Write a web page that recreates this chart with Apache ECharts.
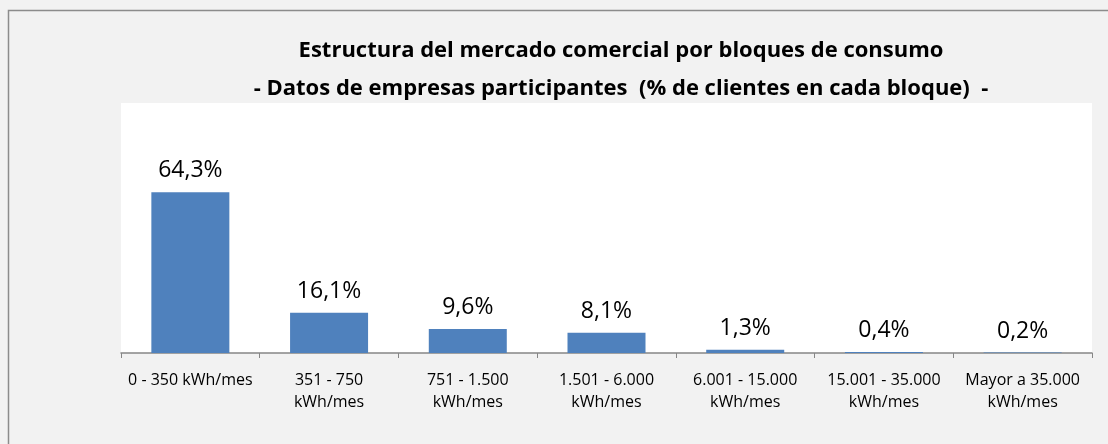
<!DOCTYPE html>
<html>
<head>
<meta charset="utf-8">
<script src="https://cdn.jsdelivr.net/npm/echarts@6/dist/echarts.min.js"></script>
<style>
  html, body { margin: 0; padding: 0; background: #f2f2f2; }
  #chart { width: 1108px; height: 444px; }
</style>
</head>
<body>
<div id="chart"></div>
<script>
// datos del gráfico
const bloques = [
  '0 - 350 kWh/mes',
  '351 - 750\nkWh/mes',
  '751 - 1.500\nkWh/mes',
  '1.501 - 6.000\nkWh/mes',
  '6.001 - 15.000\nkWh/mes',
  '15.001 - 35.000\nkWh/mes',
  'Mayor a 35.000\nkWh/mes'
];
const clientes = [64.3, 16.1, 9.6, 8.1, 1.3, 0.4, 0.2];
const titulo = 'Estructura del mercado comercial por bloques de consumo\n- Datos de empresas participantes  (% de clientes en cada bloque)  -';

const fuente = 'Open Sans';
const chart = echarts.init(document.getElementById('chart'));

const option = {
  backgroundColor: '#f2f2f2',
  animation: false,
  graphic: [
    {
      type: 'rect',
      shape: { x: 8.5, y: 10.5, width: 1200, height: 600 },
      style: { fill: 'none', stroke: '#8c8c8c', lineWidth: 1.5 },
      silent: true
    }
  ],
  title: {
    text: titulo,
    left: 616,
    textAlign: 'center',
    top: 27,
    textStyle: {
      fontFamily: fuente,
      fontSize: 22,
      fontWeight: 'bold',
      color: '#000',
      lineHeight: 38
    }
  },
  grid: {
    left: 121,
    right: 16,
    top: 103,
    bottom: 91,
    show: true,
    backgroundColor: '#fff',
    borderWidth: 0
  },
  xAxis: {
    type: 'category',
    data: bloques,
    axisLine: { lineStyle: { color: '#868686', width: 1.5 } },
    axisTick: { show: true, length: 5, lineStyle: { color: '#868686' } },
    axisLabel: {
      interval: 0,
      margin: 16,
      fontFamily: fuente,
      fontSize: 16,
      color: '#000',
      lineHeight: 22
    }
  },
  yAxis: {
    type: 'value',
    min: 0,
    max: 100,
    show: false,
    splitLine: { show: false }
  },
  series: [
    {
      type: 'bar',
      data: clientes,
      barWidth: 78,
      itemStyle: { color: '#4f81bd' },
      label: {
        show: true,
        position: 'top',
        distance: 10,
        fontFamily: fuente,
        fontSize: 23,
        color: '#000',
        formatter: p => p.value.toFixed(1).replace('.', ',') + '%'
      }
    }
  ]
};

chart.setOption(option);
</script>
</body>
</html>
